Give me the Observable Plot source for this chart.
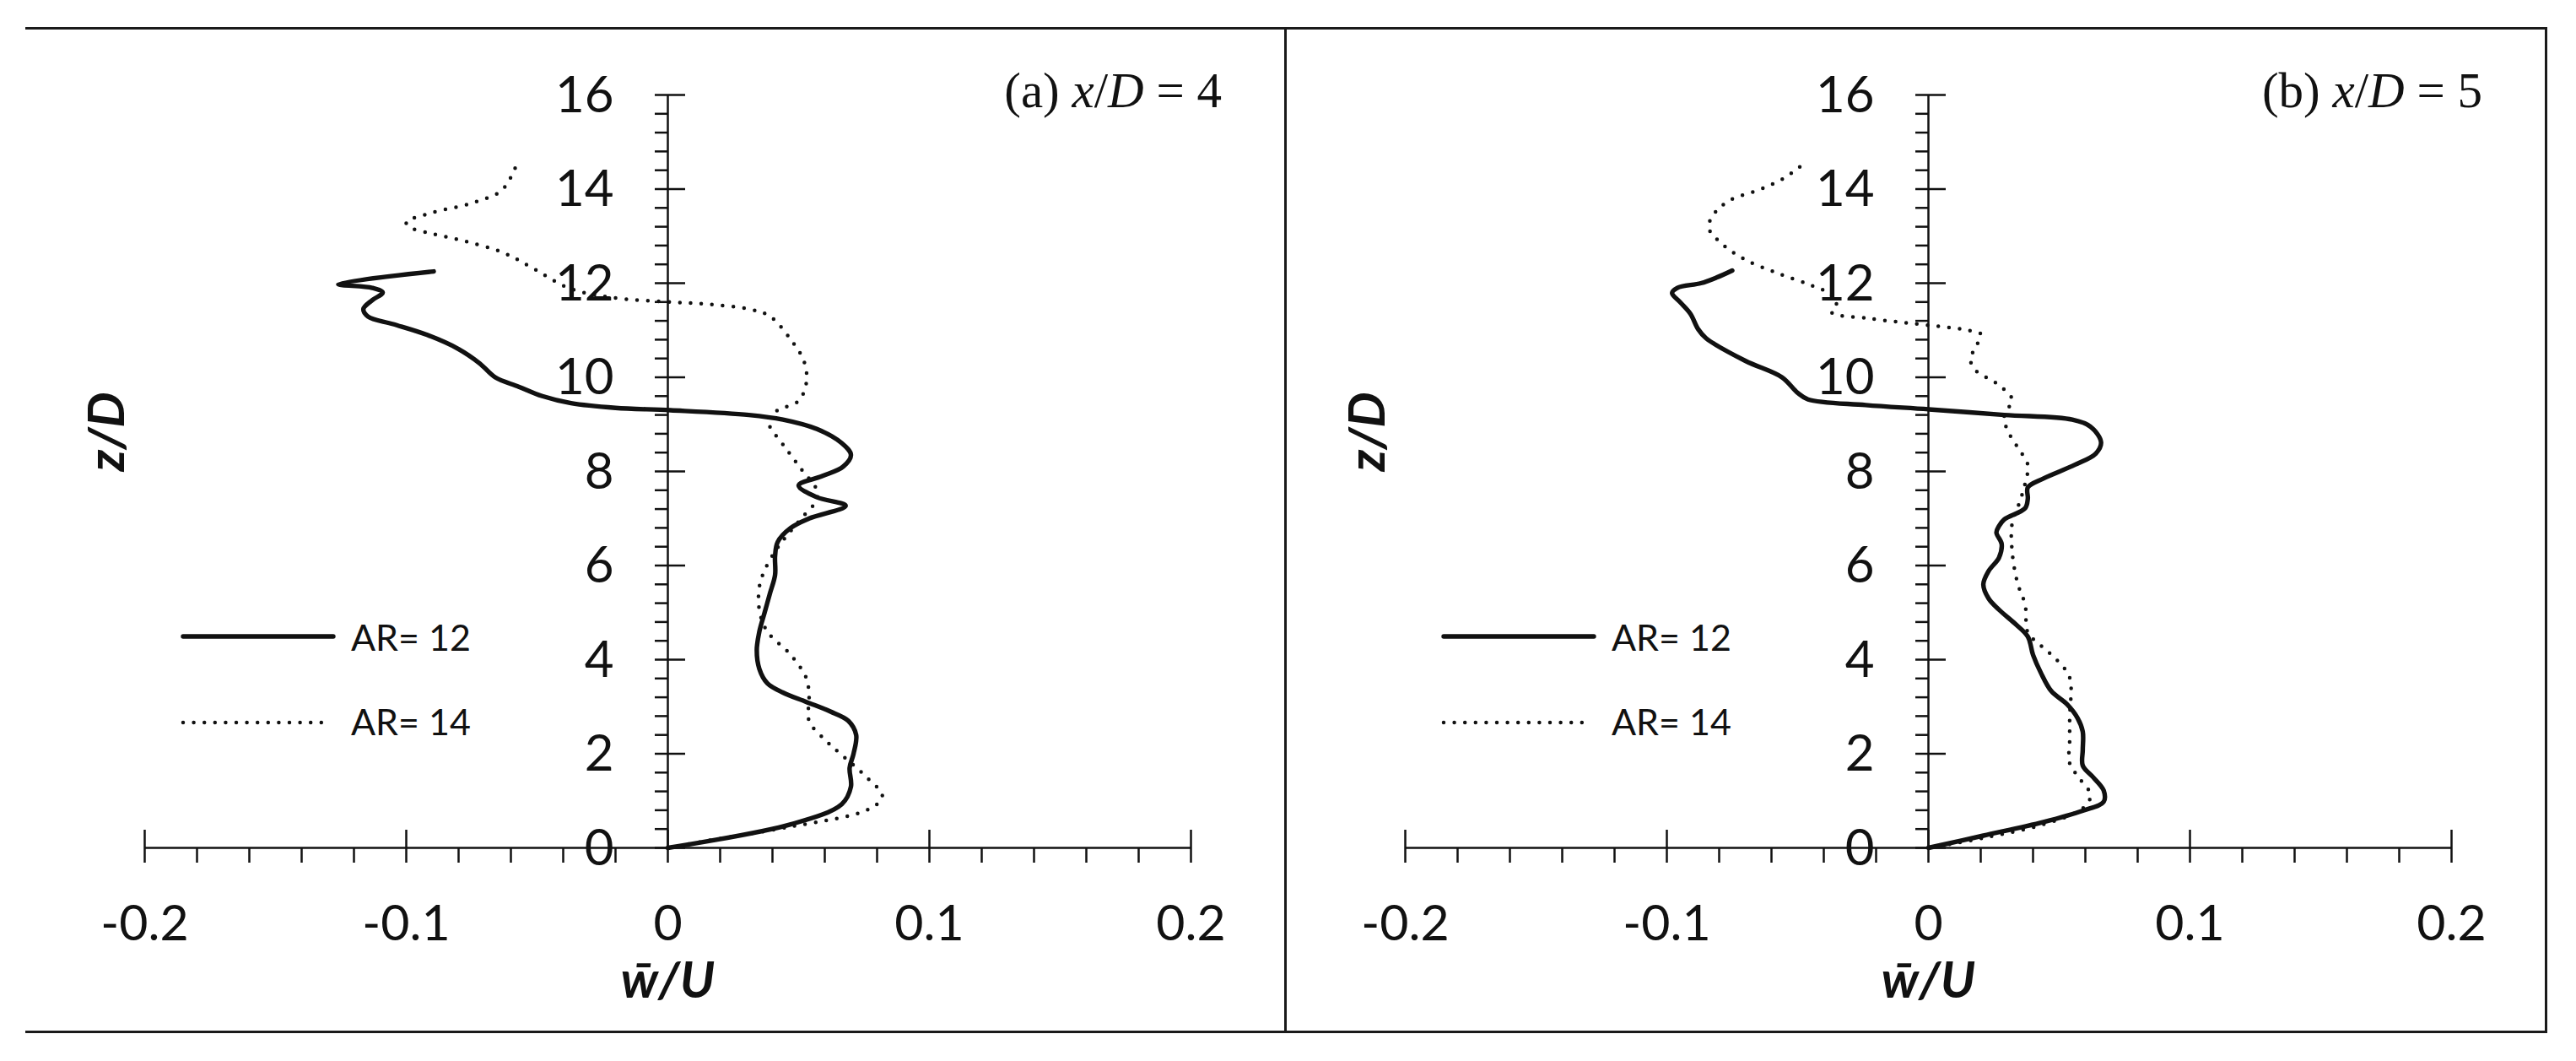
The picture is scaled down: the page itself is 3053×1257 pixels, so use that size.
<!DOCTYPE html>
<html>
<head>
<meta charset="utf-8">
<script src="https://cdn.jsdelivr.net/npm/d3@7"></script>
<script src="https://cdn.jsdelivr.net/npm/@observablehq/plot@0.6"></script>
<style>
  html, body { margin: 0; padding: 0; background: #fff; }
  #page { position: relative; width: 3053px; height: 1257px; overflow: hidden; background: #fff; }
  .rule { position: absolute; background: #1a1a1a; }
  .panel { position: absolute; top: 33px; width: 1494px; height: 1189px; }
  .panel svg { position: absolute; left: 0; top: 0; overflow: visible; }
</style>
</head>
<body>
<div id="page">
  <div class="rule" style="left:30px; top:32px; width:2989px; height:3px;"></div>
  <div class="rule" style="left:30px; top:1221px; width:2989px; height:3px;"></div>
  <div class="rule" style="left:1522px; top:32px; width:3px; height:1192px;"></div>
  <div class="rule" style="left:3016px; top:32px; width:3px; height:1192px;"></div>
  <div class="panel" id="panelA" style="left:29px;"></div>
  <div class="panel" id="panelB" style="left:1523px;"></div>
</div>
<script>
// ---------- axis ticks ----------
const xTicks = [-0.2, -0.1, 0, 0.1, 0.2];
const xTickLabels = ["-0.2", "-0.1", "0", "0.1", "0.2"];
const yTicks = [0, 2, 4, 6, 8, 10, 12, 14, 16];
const yTickLabels = ["0", "2", "4", "6", "8", "10", "12", "14", "16"];
const xMinorStep = 0.02;
const yMinorStep = 0.4;
const xDomain = [-0.2, 0.2];
const yDomain = [0, 16];

const seriesNames = ["AR= 12", "AR= 14"];
const panelTitles = [
  {label: "(a) ", v: "4"},
  {label: "(b) ", v: "5"}
];
const xLabel = "w\u0304/U";
const yLabel = "z/D";

// ---------- data: [z/D, w/U] ----------
const a_AR12 = [
  [0, 0], [0.5, 0.047], [0.93, 0.0665], [1.3, 0.070], [1.7, 0.0695], [2.0, 0.071],
  [2.4, 0.072], [2.7, 0.069], [2.9, 0.062], [3.1, 0.053], [3.3, 0.044], [3.5, 0.038],
  [3.8, 0.035], [4.2, 0.034], [4.6, 0.035], [5.0, 0.037], [5.4, 0.039], [5.8, 0.041],
  [6.2, 0.041], [6.5, 0.042], [6.8, 0.047], [7.0, 0.054], [7.27, 0.068], [7.45, 0.057],
  [7.7, 0.050], [7.9, 0.059], [8.1, 0.067], [8.35, 0.070], [8.6, 0.0665], [8.9, 0.057],
  [9.1, 0.044], [9.2, 0.031], [9.3, 0.001], [9.35, -0.020], [9.45, -0.037], [9.6, -0.048],
  [9.8, -0.057], [10.0, -0.066], [10.3, -0.072], [10.6, -0.080], [10.9, -0.092],
  [11.13, -0.105], [11.29, -0.1146], [11.45, -0.1164], [11.64, -0.113], [11.8, -0.109],
  [11.9, -0.113], [11.98, -0.126], [12.25, -0.0895]
];
const a_AR14 = [
  [0, 0], [0.16, 0.016], [0.45, 0.047], [0.74, 0.073], [0.93, 0.080], [1.12, 0.082],
  [1.5, 0.076], [2.0, 0.066], [2.3, 0.060], [2.7, 0.054], [3.2, 0.054], [3.6, 0.053],
  [4.1, 0.047], [4.6, 0.038], [5.05, 0.035], [5.55, 0.035], [5.9, 0.037], [6.3, 0.041],
  [6.6, 0.045], [7.0, 0.051], [7.4, 0.057], [7.6, 0.057], [8.05, 0.051], [8.5, 0.045],
  [8.95, 0.039], [9.1, 0.038], [9.3, 0.042], [9.5, 0.050], [9.9, 0.053], [10.35, 0.052],
  [10.8, 0.047], [11.3, 0.039], [11.45, 0.031], [11.55, 0.016], [11.6, 0.001],
  [11.7, -0.022], [11.9, -0.038], [12.3, -0.051], [12.65, -0.063], [12.9, -0.078],
  [13.05, -0.090], [13.2, -0.099], [13.3, -0.100], [13.5, -0.090], [13.7, -0.075],
  [13.95, -0.064], [14.25, -0.060], [14.5, -0.058]
];
const b_AR12 = [
  [0, 0], [0.26, 0.021], [0.55, 0.044], [0.79, 0.059], [0.98, 0.067], [1.22, 0.067],
  [1.5, 0.063], [1.75, 0.059], [2.08, 0.059], [2.47, 0.059], [2.76, 0.057], [3.05, 0.053],
  [3.33, 0.047], [3.72, 0.043], [4.1, 0.040], [4.49, 0.038], [4.77, 0.033], [5.06, 0.027],
  [5.3, 0.023], [5.6, 0.021], [5.88, 0.023], [6.17, 0.027], [6.46, 0.028], [6.7, 0.026],
  [6.84, 0.027], [6.98, 0.029], [7.22, 0.037], [7.42, 0.038], [7.66, 0.038], [7.85, 0.044],
  [8.14, 0.056], [8.38, 0.064], [8.62, 0.066], [8.95, 0.062], [9.1, 0.055], [9.2, 0.029],
  [9.32, 0], [9.41, -0.024], [9.53, -0.046], [9.67, -0.050], [10.0, -0.056], [10.35, -0.070],
  [10.83, -0.085], [11.02, -0.088], [11.35, -0.091], [11.6, -0.095], [11.79, -0.098],
  [11.9, -0.096], [12.0, -0.087], [12.12, -0.081], [12.27, -0.075]
];
const b_AR14 = [
  [0, 0], [0.21, 0.021], [0.5, 0.044], [0.84, 0.059], [1.12, 0.062], [1.46, 0.058],
  [1.8, 0.054], [2.28, 0.054], [2.76, 0.054], [3.62, 0.054], [4.0, 0.049], [4.3, 0.043],
  [4.58, 0.038], [5.16, 0.037], [5.64, 0.034], [6.31, 0.032], [6.89, 0.032], [7.37, 0.035],
  [7.75, 0.037], [8.14, 0.038], [8.52, 0.034], [8.9, 0.030], [9.19, 0.029], [9.53, 0.032],
  [9.87, 0.026], [10.15, 0.018], [10.39, 0.016], [10.63, 0.018], [10.92, 0.020],
  [11.0, 0.015], [11.07, 0.006], [11.16, -0.009], [11.26, -0.024], [11.38, -0.037],
  [11.6, -0.035], [11.79, -0.038], [11.98, -0.046], [12.22, -0.058], [12.5, -0.070],
  [12.84, -0.079], [13.18, -0.084], [13.47, -0.082], [13.76, -0.076], [14.0, -0.064],
  [14.24, -0.055], [14.48, -0.049]
];

// ---------- styles ----------
const INK = "#111";
const tickFont = "Lato, 'Open Sans', sans-serif";

const near = (v, step) => Math.abs(v / step - Math.round(v / step)) < 1e-6;
const xMinor = d3.range(Math.round((xDomain[1] - xDomain[0]) / xMinorStep) + 1)
  .map(i => +(xDomain[0] + i * xMinorStep).toFixed(4))
  .filter(v => !near(v, 0.1));
const yMinor = d3.range(Math.round((yDomain[1] - yDomain[0]) / yMinorStep) + 1)
  .map(i => +(yDomain[0] + i * yMinorStep).toFixed(4))
  .filter(v => !near(v, 2));

function makePanel(el, s12, s14, title) {
  const d12 = s12.map(([z, w]) => ({z, w}));
  const d14 = s14.map(([z, w]) => ({z, w}));
  const chart = Plot.plot({
    width: 1494,
    height: 1189,
    marginLeft: 142,
    marginRight: 112,
    marginTop: 79,
    marginBottom: 218,
    style: {background: "transparent", overflow: "visible"},
    x: {domain: xDomain, axis: null},
    y: {domain: yDomain, axis: null},
    marks: [
      // x axis line + ticks
      Plot.ruleY([{y: yDomain[0], x1: xDomain[0], x2: xDomain[1]}], {y: "y", x1: "x1", x2: "x2", stroke: INK, strokeWidth: 2.5}),
      Plot.ruleX(xTicks, {x: d => d, y1: () => 0, y2: () => 0, insetTop: -21, insetBottom: -18, stroke: INK, strokeWidth: 2.5}),
      Plot.ruleX(xMinor, {x: d => d, y1: () => 0, y2: () => 0, insetTop: 0, insetBottom: -18, stroke: INK, strokeWidth: 2.5}),
      // y axis line + ticks
      Plot.ruleX([{x: 0, y1: yDomain[0], y2: yDomain[1]}], {x: "x", y1: "y1", y2: "y2", stroke: INK, strokeWidth: 2.5}),
      Plot.ruleY(yTicks, {y: d => d, x1: () => 0, x2: () => 0, insetLeft: -15, insetRight: -21, stroke: INK, strokeWidth: 2.5}),
      Plot.ruleY(yMinor, {y: d => d, x1: () => 0, x2: () => 0, insetLeft: -15, insetRight: 0, stroke: INK, strokeWidth: 2.5}),
      // tick labels
      Plot.text(yTicks, {x: () => 0, y: d => d, text: (d, i) => yTickLabels[i], textAnchor: "end", dx: -64, dy: 1, fontSize: 60, fontFamily: tickFont, fill: INK}),
      Plot.text(xTicks, {x: d => d, y: () => 0, text: (d, i) => xTickLabels[i], textAnchor: "middle", dy: 91, fontSize: 59, fontFamily: tickFont, fill: INK}),
      // axis labels
      Plot.text([xLabel], {frameAnchor: "bottom", text: d => d, dy: 177, fontSize: 60, fontWeight: "bold", fontStyle: "italic", fontFamily: tickFont, fill: INK}),
      Plot.text([yLabel], {frameAnchor: "left", text: d => d, dx: -44, rotate: -90, fontSize: 60, fontWeight: "bold", fontStyle: "italic", fontFamily: tickFont, fill: INK}),
      // curves
      Plot.line(d14, {x: "w", y: "z", curve: "catmull-rom", stroke: INK, strokeWidth: 4.5, strokeDasharray: "0 12.7", strokeLinecap: "round"}),
      Plot.line(d12, {x: "w", y: "z", curve: "catmull-rom", stroke: INK, strokeWidth: 5.4, strokeLinecap: "round", strokeLinejoin: "round"})
    ]
  });
  el.appendChild(chart);

  // overlay: panel title and legend
  const ns = "http://www.w3.org/2000/svg";
  const ov = document.createElementNS(ns, "svg");
  ov.setAttribute("width", 1494);
  ov.setAttribute("height", 1189);
  ov.style.pointerEvents = "none";
  ov.innerHTML = `
    <text x="1419" y="94" text-anchor="end" font-family="'Liberation Serif', 'DejaVu Serif', serif" font-size="59" fill="${INK}">${title.label}<tspan font-style="italic">x</tspan>/<tspan font-style="italic">D</tspan> = ${title.v}</text>
    <line x1="188" x2="366" y1="721" y2="721" stroke="${INK}" stroke-width="5.4" stroke-linecap="round"/>
    <text x="387" y="738" font-family="${tickFont}" font-size="43" fill="${INK}">${seriesNames[0]}</text>
    <line x1="188" x2="364" y1="823" y2="823" stroke="${INK}" stroke-width="4.5" stroke-dasharray="0 12.6" stroke-linecap="round"/>
    <text x="387" y="838" font-family="${tickFont}" font-size="43" fill="${INK}">${seriesNames[1]}</text>
  `;
  el.appendChild(ov);
}

makePanel(document.getElementById("panelA"), a_AR12, a_AR14, panelTitles[0]);
makePanel(document.getElementById("panelB"), b_AR12, b_AR14, panelTitles[1]);
</script>
</body>
</html>
